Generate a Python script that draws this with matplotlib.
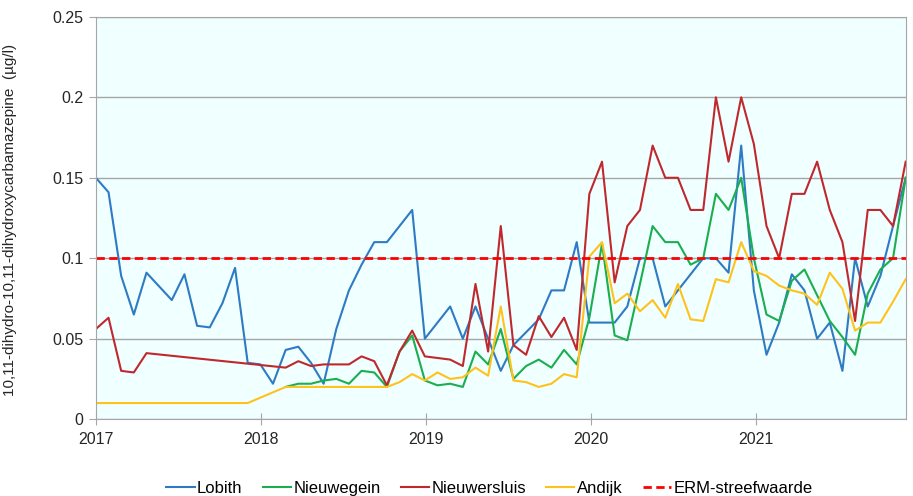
import matplotlib
matplotlib.use('Agg')
import matplotlib.pyplot as plt
import matplotlib.dates as mdates
import numpy as np
import pandas as pd

plt.rcParams['font.family'] = ['Liberation Sans', 'DejaVu Sans']

# 4-weekly sampling schedule, 2017 - 2021
dates = pd.date_range('2017-01-01', periods=65, freq='28D')
nan = np.nan

lobith = [0.150, 0.141, 0.089, 0.065, 0.091, nan, 0.074, 0.090, 0.058, 0.057,
          0.072, 0.094, 0.035, 0.034, 0.022, 0.043, 0.045, 0.035, 0.022, 0.056,
          0.080, 0.096, 0.110, 0.110, 0.120, 0.130, 0.050, 0.060, 0.070, 0.050,
          0.070, 0.050, 0.030, 0.046, 0.054, 0.062, 0.080, 0.080, 0.110, 0.060,
          0.060, 0.060, 0.070, 0.100, 0.100, 0.070, 0.080, 0.090, 0.100, 0.100,
          0.091, 0.170, 0.080, 0.040, 0.060, 0.090, 0.080, 0.050, 0.060, 0.030,
          0.100, 0.070, 0.089, 0.120, 0.150]

nieuwegein = [nan, nan, nan, nan, nan, nan, nan, nan, nan, nan,
              nan, nan, nan, nan, nan, 0.020, 0.022, 0.022, 0.024, 0.025,
              0.022, 0.030, 0.029, 0.020, 0.042, 0.052, 0.024, 0.021, 0.022, 0.020,
              0.042, 0.034, 0.056, 0.025, 0.033, 0.037, 0.032, 0.043, 0.034, 0.063,
              0.109, 0.052, 0.049, 0.084, 0.120, 0.110, 0.110, 0.096, 0.100, 0.140,
              0.130, 0.150, 0.100, 0.065, 0.061, 0.086, 0.093, 0.077, 0.061, 0.051,
              0.040, 0.078, 0.093, 0.100, 0.150]

nieuwersluis = [0.056, 0.063, 0.030, 0.029, 0.041, nan, nan, nan, nan, nan,
                nan, nan, nan, nan, nan, 0.032, 0.036, 0.033, 0.034, 0.034,
                0.034, 0.039, 0.036, 0.021, 0.042, 0.055, 0.039, 0.038, 0.037, 0.033,
                0.084, 0.042, 0.120, 0.046, 0.040, 0.064, 0.051, 0.063, 0.043, 0.140,
                0.160, 0.085, 0.120, 0.130, 0.170, 0.150, 0.150, 0.130, 0.130, 0.200,
                0.160, 0.200, 0.171, 0.120, 0.100, 0.140, 0.140, 0.160, 0.130, 0.110,
                0.061, 0.130, 0.130, 0.120, 0.160]

andijk = [0.010, 0.010, 0.010, 0.010, 0.010, 0.010, 0.010, 0.010, 0.010, 0.010,
          0.010, 0.010, 0.010, nan, nan, 0.020, 0.020, 0.020, 0.020, 0.020,
          0.020, 0.020, 0.020, 0.020, 0.023, 0.028, 0.024, 0.029, 0.025, 0.026,
          0.032, 0.027, 0.070, 0.024, 0.023, 0.020, 0.022, 0.028, 0.026, 0.101,
          0.110, 0.072, 0.078, 0.067, 0.074, 0.063, 0.084, 0.062, 0.061, 0.087,
          0.085, 0.110, 0.092, 0.089, 0.083, 0.080, 0.078, 0.071, 0.091, 0.081,
          0.055, 0.060, 0.060, 0.073, 0.087]

erm_value = 0.1

series = [
    ('Lobith', lobith, '#2E7BC4'),
    ('Nieuwegein', nieuwegein, '#1AAE4F'),
    ('Nieuwersluis', nieuwersluis, '#C0282D'),
    ('Andijk', andijk, '#FFC21A'),
]

fig = plt.figure(figsize=(9.13, 4.96), dpi=100)
ax = fig.add_axes([0.105, 0.155, 0.887, 0.811])
ax.set_facecolor('#F0FFFF')

for name, vals, color in series:
    s = pd.Series(vals, index=dates).dropna()
    ax.plot(s.index, s.values, color=color, lw=1.5, label=name)

ax.axhline(erm_value, color='#FF0000', lw=2, ls=(0, (3, 1.6)),
           label='ERM-streefwaarde')

ax.set_xlim(dates[0], dates[-1])
ax.set_ylim(0, 0.25)
ax.set_yticks([0, 0.05, 0.1, 0.15, 0.2, 0.25])
ax.set_yticklabels(['0', '0.05', '0.1', '0.15', '0.2', '0.25'])
ax.xaxis.set_major_locator(mdates.YearLocator())
ax.xaxis.set_major_formatter(mdates.DateFormatter('%Y'))

ax.grid(axis='y', color='#A6A6A6', lw=1)
ax.set_axisbelow(True)
for sp in ax.spines.values():
    sp.set_color('#A6A6A6')
ax.tick_params(axis='y', length=5, color='#A6A6A6', labelsize=11.5,
               labelcolor='#262626', pad=4)
ax.tick_params(axis='x', direction='inout', length=8, color='#A6A6A6',
               labelsize=11.5, labelcolor='#262626', pad=5)

ax.set_ylabel('10,11-dihydro-10,11-dihydroxycarbamazepine  (µg/l)',
              fontsize=11, color='#262626')
ax.yaxis.set_label_coords(-0.097, 0.495)

fig.legend(loc='lower center', bbox_to_anchor=(0.536, -0.03), ncol=5,
           frameon=False, fontsize=12, handlelength=1.7, handletextpad=0.15,
           columnspacing=1.2)

fig.savefig('out.png', dpi=100)
